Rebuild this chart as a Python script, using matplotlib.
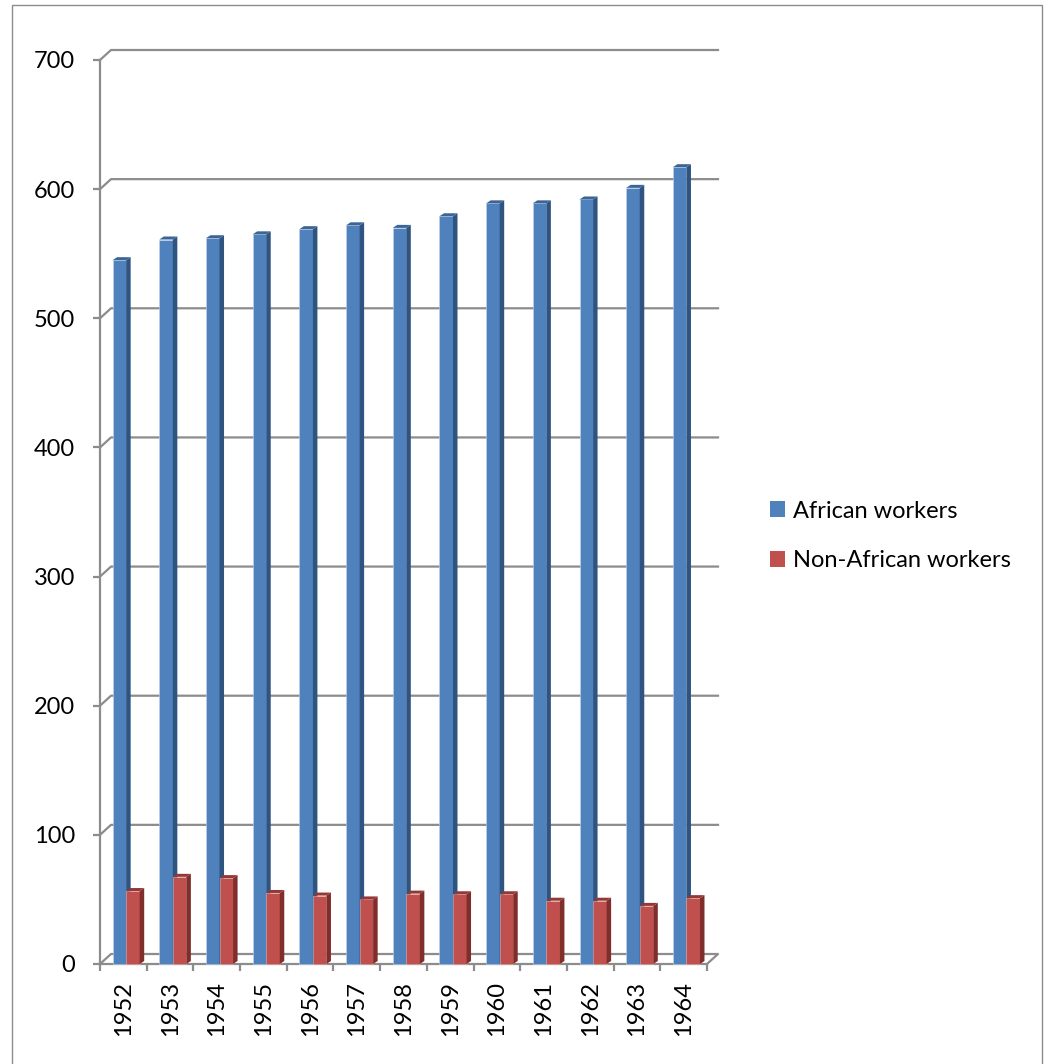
import numpy as np
import matplotlib
matplotlib.use("Agg")
import matplotlib.pyplot as plt
from matplotlib.patches import Polygon, Rectangle, Patch

plt.rcParams['font.family'] = ['Lato', 'DejaVu Sans']

years = ['1952', '1953', '1954', '1955', '1956', '1957', '1958',
         '1959', '1960', '1961', '1962', '1963', '1964']
african = [545, 561, 562, 565, 569, 572, 570, 579, 589, 589, 592, 601, 617]
non_african = [56.5, 67.5, 66.5, 55, 53, 50, 54.5, 54, 54, 49, 49, 45, 51]
series_names = ['African workers', 'Non-African workers']

blue, blue_side, blue_top = '#4F81BD', '#2F5480', '#3A6596'
red, red_side, red_top = '#C0504D', '#7F2E2C', '#953735'
grid_c = '#8C8C8C'
FS = 17

W, H = 1046, 1064
fig = plt.figure(figsize=(W / 100, H / 100), dpi=100)
ax = fig.add_axes([100 / W, (H - 964) / H, 607 / W, 904 / H])
ax.set_xlim(-0.5, 12.5)
ax.set_ylim(0, 700)
ax.patch.set_visible(False)

px_x = 607 / 13.0
px_y = 904 / 700.0
DX, DY = 11 / px_x, 10 / px_y          # wall depth
bdx, bdy = 4.5 / px_x, 3 / px_y        # bar depth

# back-wall gridlines with diagonal connectors
for v in range(100, 701, 100):
    ax.plot([-0.5, -0.5 + DX, 12.5 + DX], [v, v + DY, v + DY],
            color=grid_c, lw=1.6, clip_on=False, zorder=1)
# floor
ax.plot([-0.5, -0.5 + DX, 12.5 + DX, 12.5], [0, DY, DY, 0],
        color=grid_c, lw=1.6, clip_on=False, zorder=1)

x = np.arange(len(years))
w = 0.29
shift = 0.06


def draw_series(xc, vals, front, side, top, edge, z):
    ax.bar(xc, vals, w, color=front, edgecolor=edge,
           linewidth=0.4, zorder=z, clip_on=False)
    for xi, v in zip(xc, vals):
        r = xi + w / 2
        l = xi - w / 2
        ax.add_patch(Polygon([(r, 0), (r, v), (r + bdx, v + bdy), (r + bdx, bdy)],
                             closed=True, facecolor=side, edgecolor='none',
                             zorder=z, clip_on=False))
        ax.add_patch(Polygon([(l, v), (r, v), (r + bdx, v + bdy), (l + bdx, v + bdy)],
                             closed=True, facecolor=top, edgecolor='none',
                             zorder=z, clip_on=False))


draw_series(x - w / 2 + shift, african, blue, blue_side, blue_top, '#C9D6EA', 3)
draw_series(x + w / 2 + shift, non_african, red, red_side, red_top, '#E3B5B4', 4)

# spines
for s in ['top', 'right']:
    ax.spines[s].set_visible(False)
for s in ['left', 'bottom']:
    ax.spines[s].set_color(grid_c)
    ax.spines[s].set_linewidth(1.6)
    ax.spines[s].set_zorder(2)

ax.set_yticks(range(0, 701, 100))
ax.tick_params(axis='y', length=5, width=1.6, color=grid_c, pad=13,
               labelsize=FS, labelcolor='black')
ax.set_xticks(x)
ax.set_xticklabels(years, rotation=90, fontsize=FS)
ax.set_xticks(np.arange(-0.5, 13, 1.0), minor=True)
ax.tick_params(axis='x', which='major', length=0, pad=12)
ax.tick_params(axis='x', which='minor', length=5, width=1.6, color=grid_c)

handles = [Patch(facecolor=blue, edgecolor='none'), Patch(facecolor=red, edgecolor='none')]
fig.legend(handles, series_names, loc='center left',
           bbox_to_anchor=(770 / W, 1 - 536 / H), frameon=False, fontsize=FS,
           handlelength=0.64, handleheight=0.64, handletextpad=0.33,
           labelspacing=1.22, borderaxespad=0, borderpad=0)

# outer chart frame
fig.patches.append(Rectangle((12 / W, -0.05), 1030 / W, 0.05 + (H - 5) / H,
                             transform=fig.transFigure, fill=False,
                             edgecolor='#8C8C8C', lw=1.0))

fig.savefig('out.png', dpi=100)
